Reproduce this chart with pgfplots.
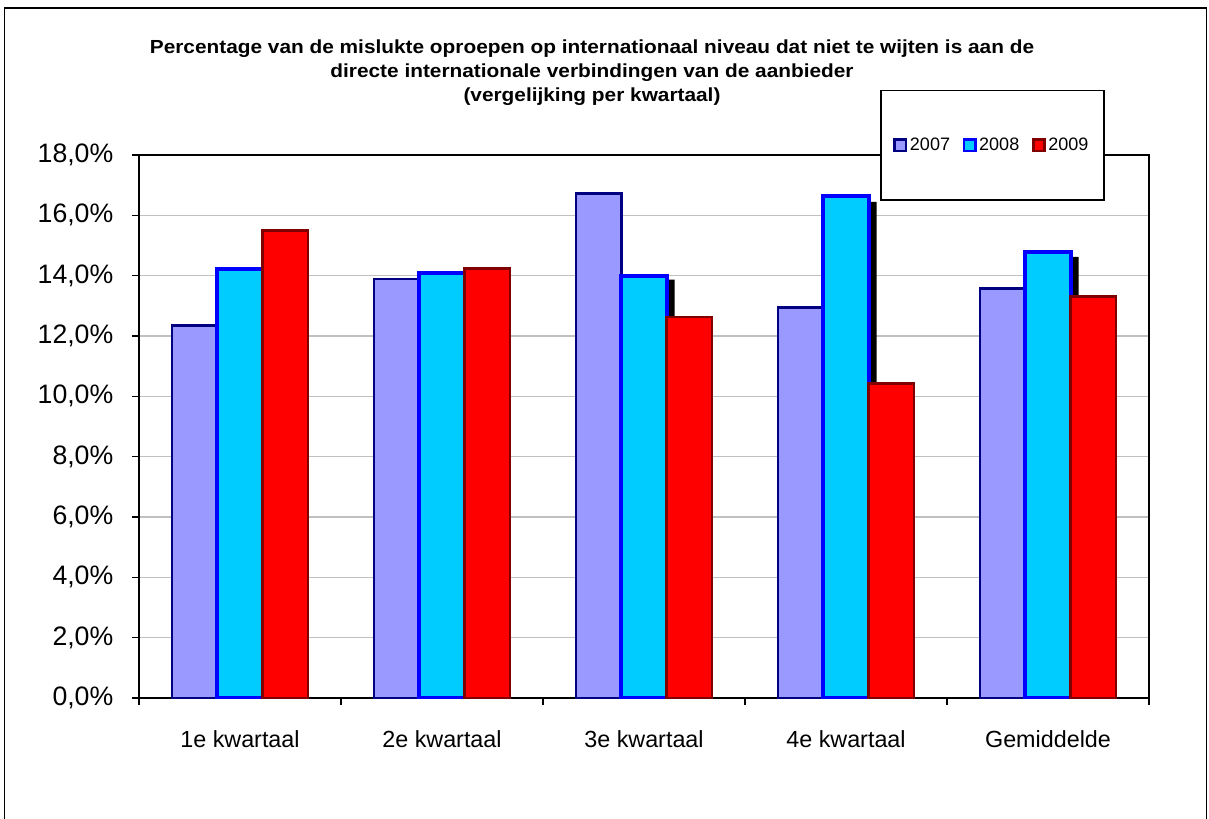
\documentclass[border=0pt]{standalone}
\usepackage{pgfplots}
\pgfplotsset{compat=1.18}
\usepackage{fontspec}
\setmainfont{Liberation Sans}

\definecolor{c07}{HTML}{9999FF}
\definecolor{c07e}{HTML}{000080}
\definecolor{c08}{HTML}{00CCFF}
\definecolor{c08e}{HTML}{0000FF}
\definecolor{c09}{HTML}{FF0000}
\definecolor{c09e}{HTML}{800000}
\definecolor{gridgray}{HTML}{C0C0C0}

\pgfplotsset{
  sq legend/.style={legend image code/.code={
      \draw[##1,line width=2pt] (0pt,-4.2pt) rectangle (8.4pt,4.2pt);}},
}

\begin{document}
\begin{tikzpicture}[x=0.75pt,y=-0.75pt]
\useasboundingbox (0,0) rectangle (1209,818);
% outer frame
\draw[line width=1.4pt] (4.5,830) -- (4.5,8) -- (1206.5,8) -- (1206.5,830);

% title
\node[font=\bfseries\fontsize{14.2}{16}\selectfont] at (592,49)
  {\scalebox{1.1}[1]{Percentage van de mislukte oproepen op internationaal niveau dat niet te wijten is aan de}};
\node[font=\bfseries\fontsize{14.2}{16}\selectfont] at (592,73)
  {\scalebox{1.1}[1]{directe internationale verbindingen van de aanbieder}};
\node[font=\bfseries\fontsize{14.2}{16}\selectfont] at (592,97)
  {\scalebox{1.1}[1]{(vergelijking per kwartaal)}};

\begin{axis}[
  at={(104.25pt,-523.5pt)}, anchor=south west,
  width=757.5pt, height=407.25pt, scale only axis,
  ybar, bar width=34pt,
  xmin=-0.5, xmax=4.5, ymin=0, ymax=18,
  xtick={-0.5,0.5,1.5,2.5,3.5,4.5},
  xticklabels={1e kwartaal,2e kwartaal,3e kwartaal,4e kwartaal,Gemiddelde},
  x tick label as interval,
  ytick={0,2,...,18},
  yticklabels={{0,0\%},{2,0\%},{4,0\%},{6,0\%},{8,0\%},{10,0\%},{12,0\%},{14,0\%},{16,0\%},{18,0\%}},
  tick align=outside, major tick length=5.25pt,
  tick style={black, line width=0.9pt},
  xtick pos=bottom, ytick pos=left,
  ymajorgrids, major grid style={gridgray, line width=1.1pt},
  axis line style={black, line width=1.2pt},
  yticklabel style={font=\fontsize{20}{24}\selectfont, xshift=-10.5pt},
  xticklabel style={font=\fontsize{17.5}{21}\selectfont, yshift=-16pt},
  legend columns=3,
  legend style={at={(0.7337,1.1197)}, anchor=north west,
    draw=black, line width=1.1pt, inner xsep=9.5pt, inner ysep=33.5pt,
    font=\fontsize{13.5}{16}\selectfont,
    /tikz/every even column/.append style={column sep=7.5pt}},
]
\addplot[fill=c07, draw=c07e, line width=2.2pt, bar shift=-34pt, sq legend]
  coordinates {(0,12.36) (1,13.89) (2,16.71) (3,12.96) (4,13.56)};
\addlegendentry{2007}
% drop shadow behind the 2008 bars
\addplot[fill=black, draw=none, bar shift=6pt, forget plot]
  coordinates {(0,14.05) (1,13.95) (2,13.87) (3,16.45) (4,14.62)};
\addplot[fill=c08, draw=c08e, line width=3pt, bar shift=0pt, sq legend]
  coordinates {(0,14.22) (1,14.10) (2,13.99) (3,16.64) (4,14.77)};
\addlegendentry{2008}
\addplot[fill=c09, draw=c09e, line width=2.2pt, bar shift=34pt, sq legend]
  coordinates {(0,15.51) (1,14.25) (2,12.63) (3,10.44) (4,13.31)};
\addlegendentry{2009}
\end{axis}
\end{tikzpicture}
\end{document}
